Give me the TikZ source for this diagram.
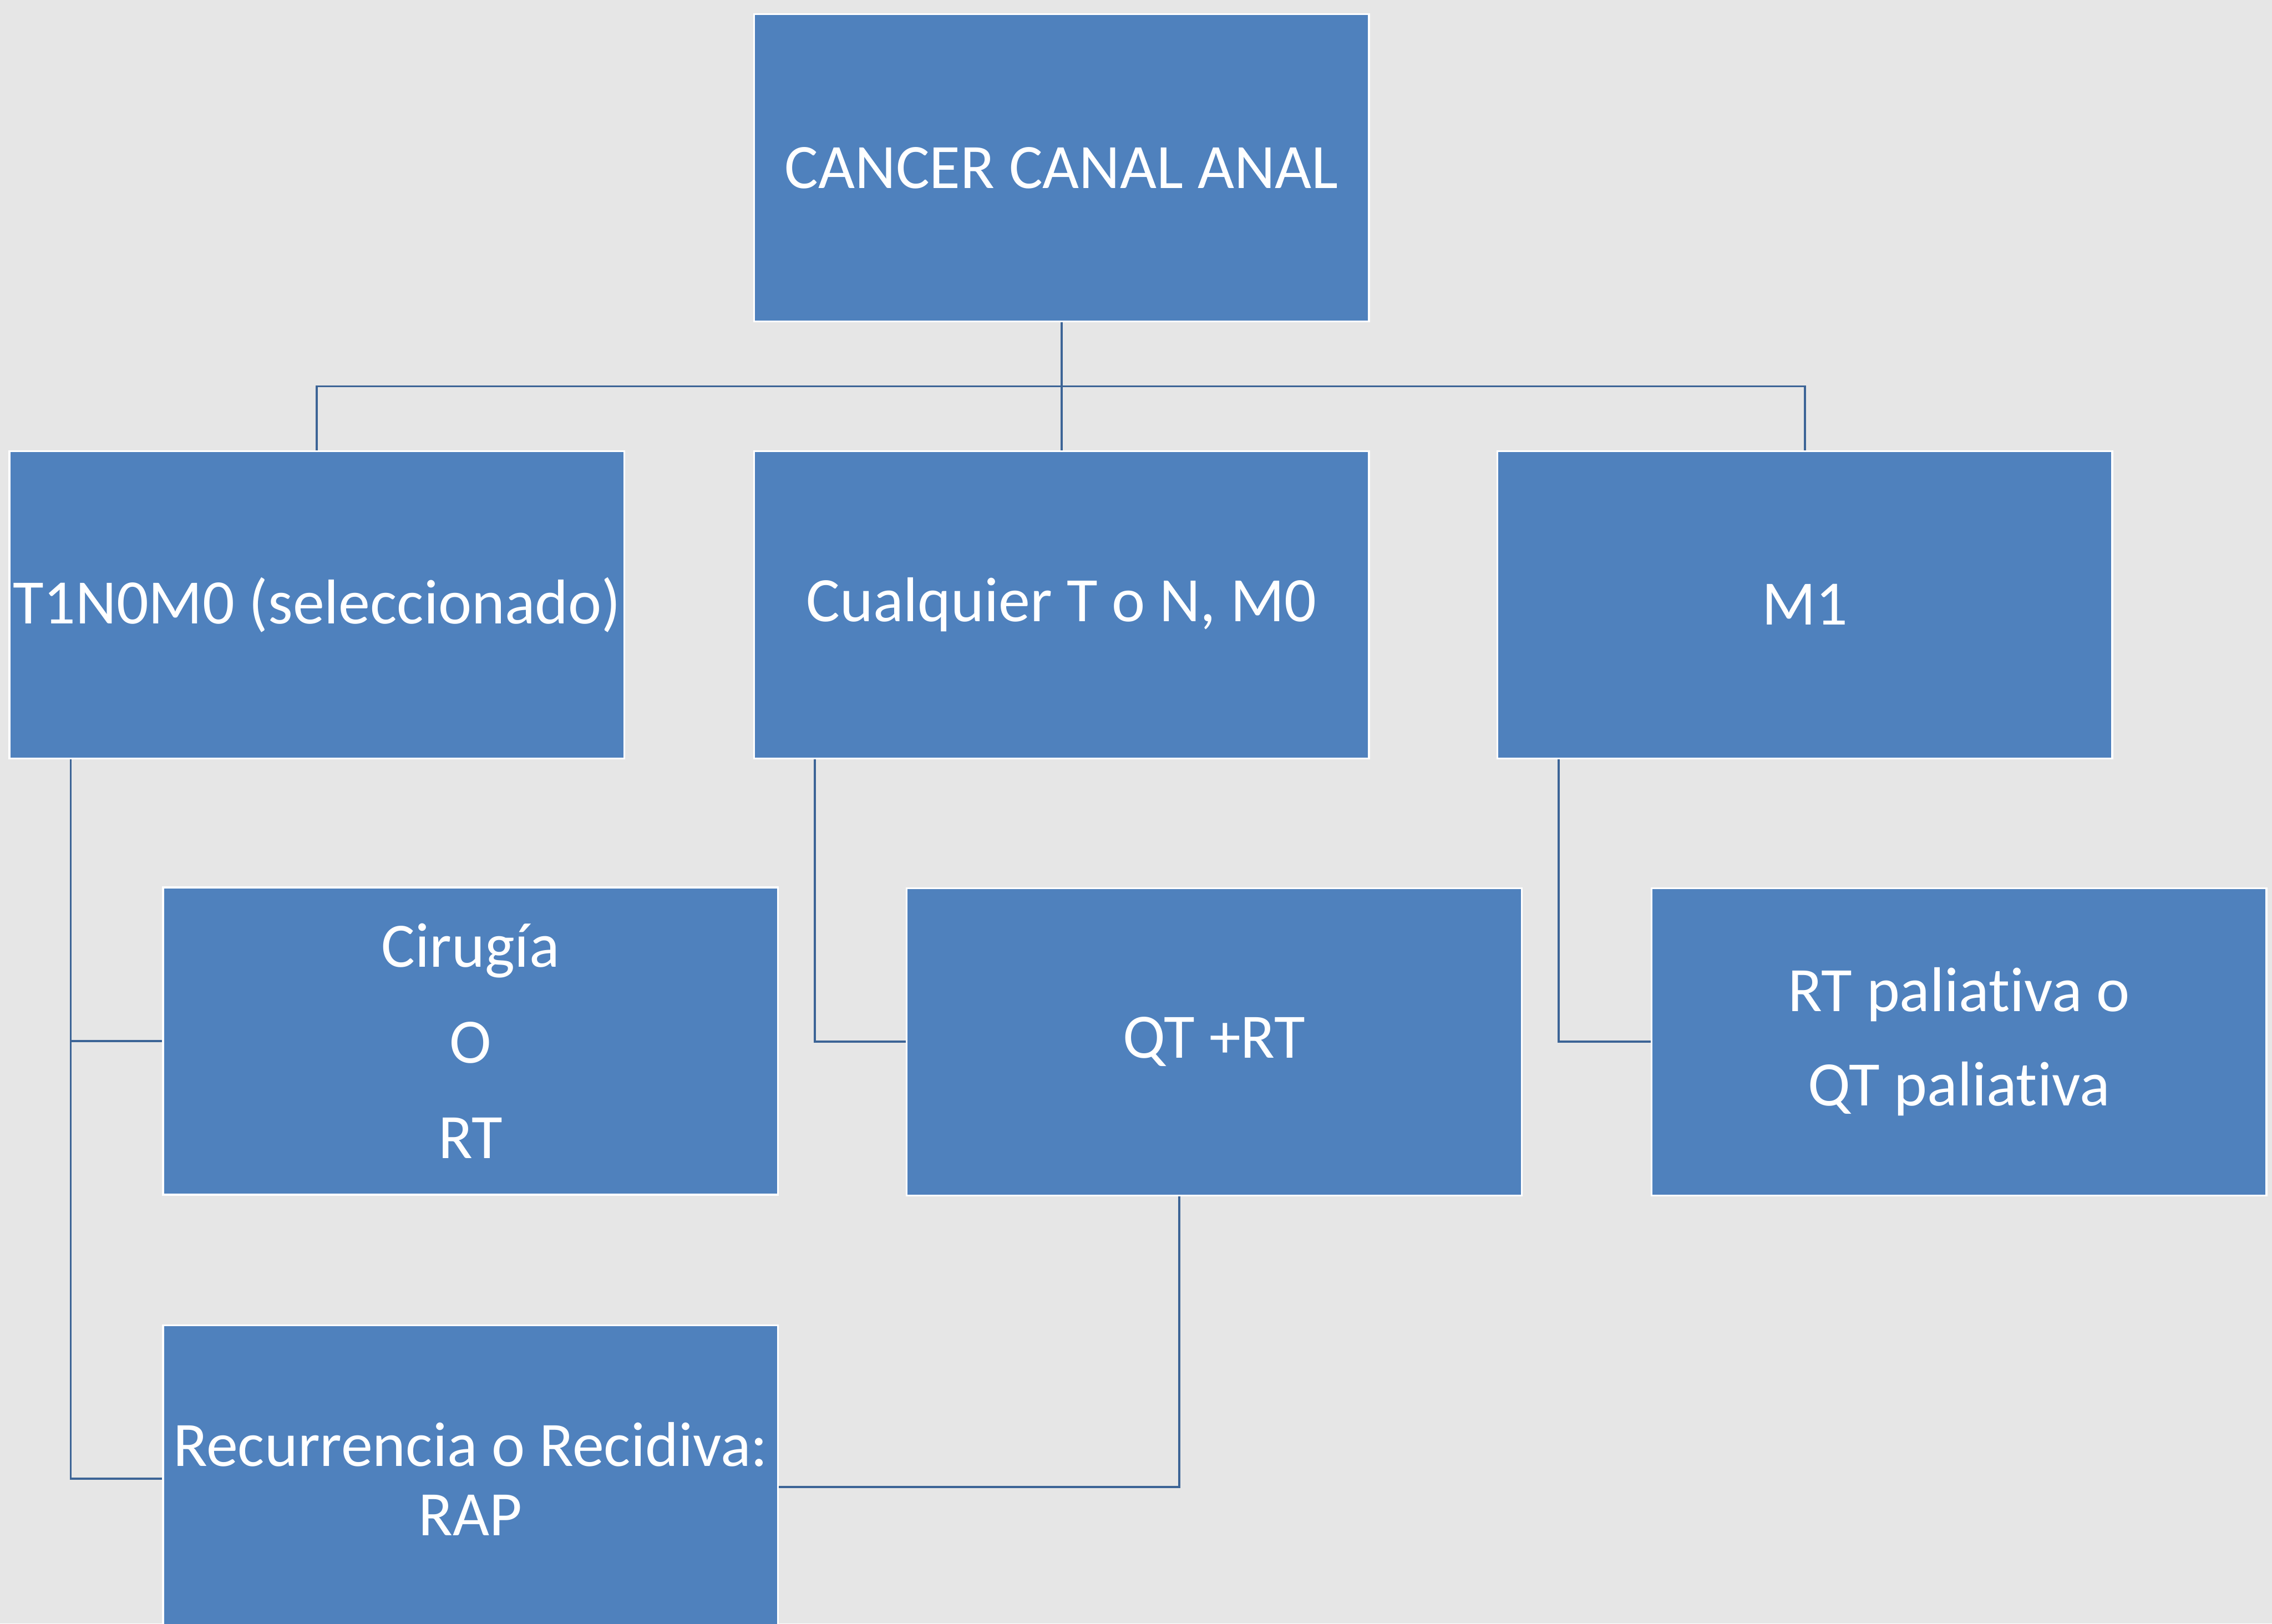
\documentclass[tikz,border=0pt]{standalone}
\usepackage{fontspec}
\setmainfont{Carlito}[Ligatures=NoCommon]
\definecolor{bgc}{HTML}{E6E6E6}
\definecolor{boxc}{HTML}{4F81BD}
\definecolor{linec}{HTML}{3C6496}
\tikzset{
  box/.style={rectangle, draw=white, line width=1.4pt, fill=boxc, text=white,
    minimum width=16.95cm, minimum height=8.47cm, inner sep=0pt, align=center,
    font=\fontsize{49.6}{59}\selectfont},
  conn/.style={draw=linec, line width=1.7pt}
}
\begin{document}
\begin{tikzpicture}
\fill[bgc] (0,0) rectangle (62.63,-44.76);
\useasboundingbox (0,0) rectangle (62.63,-44.76);
\clip (0,0) rectangle (62.63,-44.76);
% nodes
\node[box] (top) at (29.26,-4.63) {CANCER CANAL ANAL};
\node[box] (n1) at (8.735,-16.67) {T1N0M0 (seleccionado)};
\node[box] (n2) at (29.26,-16.67) {Cualquier T o N, M0};
\node[box] (n3) at (49.75,-16.67) {M1};
\node[box, font=\fontsize{49.6}{75}\selectfont] (c1) at (12.97,-28.70) {Cirugía\\O\\RT};
\node[box] (c2) at (33.47,-28.72) {QT +RT};
\node[box, font=\fontsize{49.6}{74}\selectfont] (c3) at (54.00,-28.72) {RT paliativa o\\QT paliativa};
\node[box, font=\fontsize{49.6}{54}\selectfont] (d1) at (12.97,-40.77) {Recurrencia o Recidiva:\\RAP};
% helper coordinates
\coordinate (bus) at (0,-10.65);
\coordinate (v1) at (1.95,0);
\coordinate (v2) at (22.46,0);
\coordinate (v3) at (42.97,0);
\coordinate (v4) at (32.51,0);
\coordinate (w) at (0,-41.00);
% connectors
\draw[conn] (top.south) -- (top.south |- bus);
\draw[conn] (n1.north) |- (n3.north |- bus) -- (n3.north);
\draw[conn] (n2.north) -- (n2.north |- bus);
\draw[conn] (n1.south -| v1) |- (c1.west);
\draw[conn] (n1.south -| v1) |- (d1.west);
\draw[conn] (n2.south -| v2) |- (c2.west);
\draw[conn] (n3.south -| v3) |- (c3.west);
\draw[conn] (c2.south -| v4) |- (d1.east |- w);
\end{tikzpicture}
\end{document}
